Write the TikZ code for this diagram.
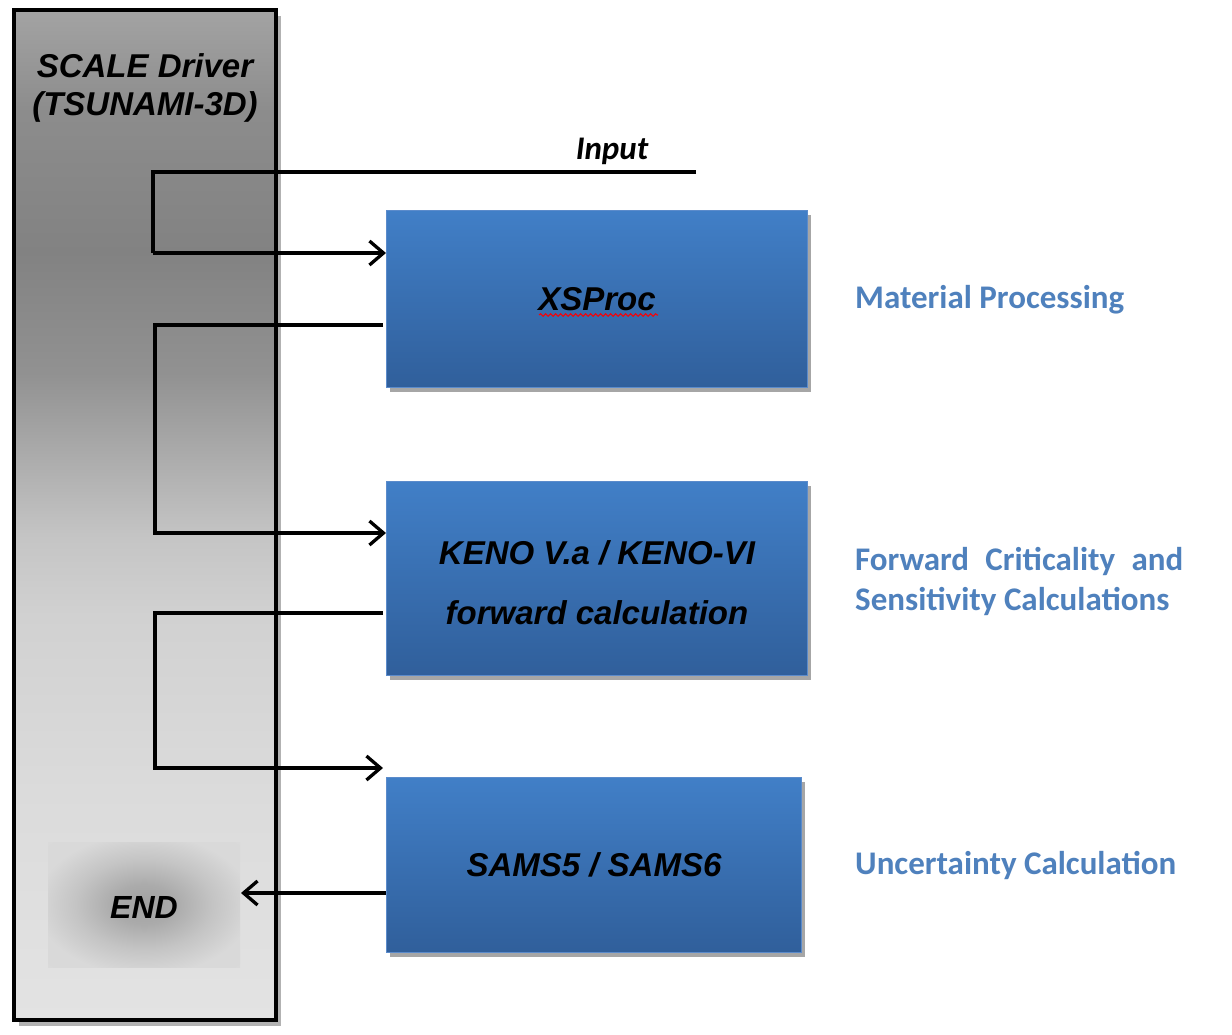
\documentclass[tikz,border=0pt]{standalone}
\usepackage{fontspec}
\setmainfont{Liberation Sans}
\newfontfamily\calfont{Carlito}
\usetikzlibrary{
    arrows.meta,
    shadows,
    decorations.pathmorphing
}
\definecolor{boxtop}{HTML}{417FC7}
\definecolor{boxbot}{HTML}{305F9B}
\definecolor{boxline}{HTML}{5B8BCB}
\definecolor{labelblue}{HTML}{4F81BD}
\pgfdeclareverticalshading{driverfill}{100bp}{
    rgb(0bp)=(.89,.89,.89); rgb(25bp)=(.89,.89,.89);
    rgb(36bp)=(.86,.86,.86); rgb(45bp)=(.82,.82,.82);
    rgb(49bp)=(.77,.77,.77); rgb(53bp)=(.67,.67,.67);
    rgb(57bp)=(.57,.57,.57); rgb(63bp)=(.51,.51,.51);
    rgb(70bp)=(.55,.55,.55); rgb(75bp)=(.64,.64,.64);
    rgb(100bp)=(.64,.64,.64)}
\pgfdeclareradialshading{endfill}{\pgfpoint{0bp}{0bp}}{
    rgb(0bp)=(.63,.63,.63); rgb(8bp)=(.67,.67,.67);
    rgb(18bp)=(.77,.77,.77); rgb(28bp)=(.85,.85,.85);
    rgb(50bp)=(.86,.86,.86)}
\tikzset{
    prog/.style={rectangle, draw=boxline, line width=1pt,
        top color=boxtop, bottom color=boxbot, align=center,
        font=\fontsize{33}{60}\selectfont\bfseries\itshape,
        drop shadow={shadow xshift=3pt, shadow yshift=-4pt, opacity=.35, fill=black}},
    task/.style={font=\calfont\fontsize{33}{42}\selectfont\bfseries, text=labelblue, anchor=base west, inner sep=0pt},
    flow/.style={line width=3.3pt},
    flowarrow/.style={line width=3.3pt, -{Straight Barb[length=14pt,width=24pt,line width=3.3pt]}}
}

\begin{document}
\begin{tikzpicture}[x=1pt, y=-1pt]
    \useasboundingbox[fill=white] (0,0) rectangle (1232,1034);

    % driver column
    \path[shading=driverfill, drop shadow={shadow xshift=5pt, shadow yshift=-6pt, opacity=.3, fill=black}]
        (14,10) rectangle (276,1020);
    \draw[line width=3.3pt] (14,10) rectangle (276,1020) node[pos=0, inner sep=0pt](driver){};
    \draw (145,77) node[anchor=base, font=\fontsize{33}{38}\selectfont\bfseries\itshape](title){SCALE Driver};
    \draw (145,115) node[anchor=base, font=\fontsize{33}{38}\selectfont\bfseries\itshape](subtitle){(TSUNAMI-3D)};

    \path[shading=endfill] (48,842) rectangle (240,967);
    \draw (144,918) node[anchor=base, font=\fontsize{32}{38}\selectfont\bfseries\itshape](endbox){END};
    \coordinate (endin) at (241,893);

    % programs
    \draw (386,210) node[prog, anchor=north west, minimum width=421pt, minimum height=177pt](xsproc){XSProc};
    \draw (386,481) node[prog, anchor=north west, minimum width=421pt, minimum height=194pt](keno)
        {\rule{0pt}{33pt}KENO V.a / KENO-VI\\forward calculation};
    \draw (386,777) node[prog, anchor=north west, minimum width=415pt, minimum height=175pt](sams){SAMS5 / SAMS6};
    \draw[red, line width=1pt, decorate, decoration={snake, amplitude=1.3pt, segment length=5pt}]
        ([xshift=-58pt, yshift=-16pt]xsproc.center) -- ([xshift=61pt, yshift=-16pt]xsproc.center);

    % descriptions
    \draw (855,308) node[task](mat){Material Processing};
    \draw (855,570) node[task](fwd){\makebox[328pt][s]{Forward Criticality and}};
    \draw (855,610) node[task](sens){Sensitivity Calculations};
    \draw (855,874) node[task](unc){Uncertainty Calculation};

    % input and sequence
    \draw (612,159) node[anchor=base, font=\calfont\fontsize{33}{38}\selectfont\bfseries\itshape](input){Input};
    \coordinate (inend) at (696,172);
    \coordinate (in1) at (153,172);
    \coordinate (in2) at (153,253);
    \coordinate (x1) at (383,325);
    \coordinate (k1) at (155,533);
    \coordinate (k2) at (383,613);
    \coordinate (s1) at (155,768);

    \draw[flow] (inend) -- (in1) -- (in2);
    \draw[flowarrow] (in2) -- (in2 -| xsproc.west);
    \draw[flowarrow] (x1) -| (k1) -- (k1 -| keno.west);
    \draw[flowarrow] (k2) -| (s1) -- ([xshift=-3pt]s1 -| sams.west);
    \draw[flowarrow] (sams.west |- endin) -- (endin);
\end{tikzpicture}
\end{document}
